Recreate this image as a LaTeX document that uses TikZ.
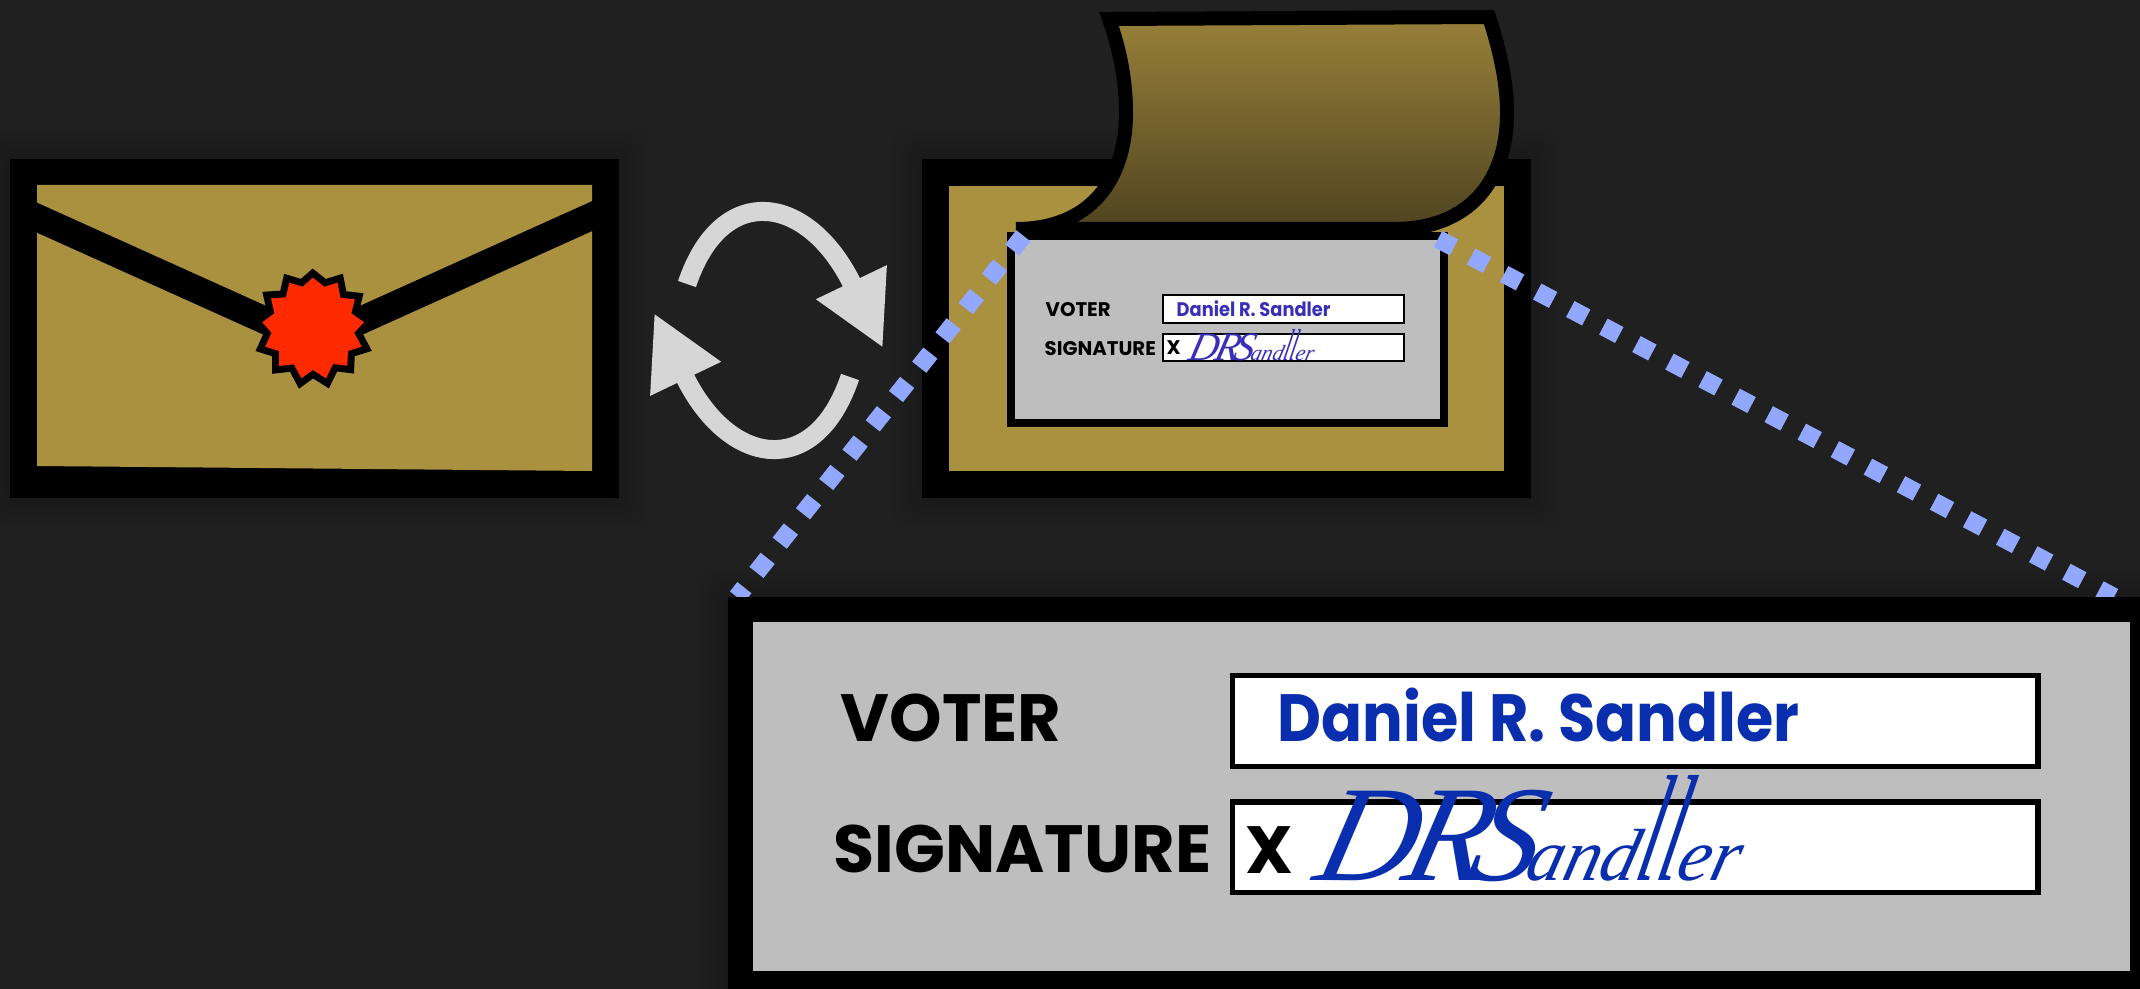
\documentclass[tikz,border=0pt]{standalone}
\usepackage{fontspec}
\usepackage{graphicx}
\usetikzlibrary{arrows.meta, positioning, backgrounds}
\setmainfont{Poppins}
\newfontfamily\sigfont{Liberation Serif}
\definecolor{bgdark}{HTML}{202020}
\definecolor{envtan}{HTML}{AA9140}
\definecolor{flaptop}{HTML}{978039}
\definecolor{flapbot}{HTML}{4F4420}
\definecolor{sealred}{HTML}{FF2A00}
\definecolor{cardgray}{HTML}{BEBEBE}
\definecolor{inkblue}{HTML}{0A2FAE}
\definecolor{inksmall}{HTML}{3A30B8}
\definecolor{zoomblue}{HTML}{92A8FF}
\definecolor{swapgray}{HTML}{D6D6D6}
\newcommand{\bigfont}{\fontsize{19}{20}\selectfont\bfseries}
\newcommand{\smallfont}{\fontsize{5.6}{6}\selectfont\bfseries}
\newcommand{\nametext}{\scalebox{0.905}[1]{Daniel R. Sandler}}
\newcommand{\sigtext}{\sigfont\itshape\fontsize{38.8}{40}\selectfont D\kern-3ptR\kern-5ptS\kern-3pt\fontsize{21}{24}\selectfont and\scalebox{1}[2.05]{ll}er}

\begin{document}
\begin{tikzpicture}[
    x=0.01cm, y=-0.01cm,
    envelope/.style={rectangle, draw=black, fill=envtan, line width=0.27cm, minimum width=5.82cm, minimum height=3.12cm},
    cardbox/.style={rectangle, draw=black, fill=cardgray},
    fieldbox/.style={rectangle, draw=black, fill=white},
    biglabel/.style={anchor=base west, inner sep=0pt, font=\bigfont},
    smalllabel/.style={anchor=base west, inner sep=0pt, font=\smallfont},
    signature/.style={anchor=base west, inner sep=0pt, xslant=0.25, transform shape},
    zoomline/.style={draw=zoomblue, line width=0.18cm, dash pattern=on 0.18cm off 0.194cm},
    swaparrow/.style={draw=swapgray, line width=0.19cm, -{Triangle[length=0.73cm, width=0.73cm, fill=swapgray]}},
    halo/.style={black, opacity=0.018, rounded corners=0.15cm}
]
\useasboundingbox (0,0) rectangle (2140,988);

% Sealed envelope
\node[rectangle, fill=black, minimum width=6.09cm, minimum height=3.39cm] (sealed) at (314.5,328.5) {};
\fill[envtan] (37,185) -- (592,185) -- (592,471) -- (37,466) -- cycle;
\draw[line width=0.273cm, miter limit=4] (20,210) -- (313,342) -- (610,208);
\path[fill=sealred, preaction={draw=black, line width=0.14cm, miter limit=10}] (312.9,277.7) -- (324.3,286.7) -- (337.5,282.7) -- (340.4,297.7) -- (354.8,299.3) -- (351.3,313.3) -- (364,322.3) -- (354.2,332.7) -- (361.7,346.7) -- (347.9,351) -- (347.3,365.7) -- (333,364) -- (326,378.3) -- (312.9,370) -- (301.4,378.3) -- (293.9,364.3) -- (279,366) -- (279,351) -- (265.2,346.7) -- (271.5,332.7) -- (262.3,322.3) -- (274.4,313.3) -- (271,298.3) -- (285.9,297.3) -- (289.3,282.7) -- (302.5,286.7) -- cycle;

% Opened envelope
\node[envelope] (opened) at (1226.75,328.5) {};
\node[cardbox, line width=0.08cm, minimum width=4.325cm, minimum height=1.87cm] (smallcard) at (1227.25,329.5) {};
\draw[line width=0.14cm, miter limit=10, top color=flaptop, bottom color=flapbot] (1109,19) -- (1489,17) .. controls (1503,60) and (1507,90) .. (1507,113) .. controls (1507,180) and (1470,229) .. (1394,229) -- (1016,229) .. controls (1090,229) and (1126,180) .. (1126,113) .. controls (1126,80) and (1120,50) .. (1109,19) -- cycle;

% Small form
\node[fieldbox, line width=0.02cm, minimum width=2.41cm, minimum height=0.27cm] (smallvoter) at (1283.5,309) {};
\node[fieldbox, line width=0.02cm, minimum width=2.41cm, minimum height=0.27cm, below=0.09cm of smallvoter] (smallsig) {};
\node[smalllabel] (smallvoterlabel) at (1045,316) {VOTER};
\node[smalllabel] (smallsiglabel) at (1044,355) {SIGNATURE};
\node[smalllabel, text=inksmall] (smallname) at (1176,316) {\nametext};
\node[smalllabel] (smallx) at (1166,354) {X};
\node[signature, text=inksmall, scale=0.295] (smallscript) at (1187,360) {\sigtext};

% Swap arrows
\coordinate (swapAstart) at (687,284);
\coordinate (swapAend) at (883,348);
\coordinate (swapBstart) at (850,377);
\coordinate (swapBend) at (654,313);
\draw[swaparrow] (swapAstart) .. controls (722,180) and (809,194) .. (swapAend);
\draw[swaparrow] (swapBstart) .. controls (815,481) and (728,467) .. (swapBend);

% Zoom lines
\coordinate (zoomAstart) at (1023.4,235.8);
\coordinate (zoomAend) at (737,597);
\coordinate (zoomBstart) at (1438,239);
\coordinate (zoomBend) at (2114,597);
\draw[zoomline] (zoomAstart) -- (zoomAend);
\draw[zoomline] (zoomBstart) -- (zoomBend);

% Large form
\node[cardbox, line width=0.245cm, minimum width=14.01cm, minimum height=3.74cm] (bigcard) at (1441.5,796.5) {};
\node[fieldbox, line width=0.055cm, minimum width=8.05cm, minimum height=0.905cm] (bigvoter) at (1635.3,721) {};
\node[fieldbox, line width=0.055cm, minimum width=8.05cm, minimum height=0.905cm, below=0.3cm of bigvoter] (bigsig) {};
\node[biglabel] (bigvoterlabel) at (840,741) {VOTER};
\node[biglabel] (bigsiglabel) at (833,872) {SIGNATURE};
\node[biglabel, text=inkblue] (bigname) at (1277,741) {\nametext};
\node[biglabel] (bigx) at (1245,873) {X};
\node[signature, text=inkblue] (bigscript) at (1311,880) {\sigtext};

% Background
\begin{scope}[on background layer]
    \fill[bgdark] (-5,-5) rectangle (2145,993);
    \foreach \g in {0.05,0.1,0.15,0.2,0.25,0.3} {
        \fill[halo] ([shift={(-\g cm,-\g cm)}]sealed.south west) rectangle ([shift={(\g cm,\g cm)}]sealed.north east);
        \fill[halo] ([shift={(-\g cm,-\g cm)}]opened.south west) rectangle ([shift={(\g cm,\g cm)}]opened.north east);
        \fill[halo] ([shift={(-\g cm,-\g cm)}]bigcard.south west) rectangle ([shift={(\g cm,\g cm)}]bigcard.north east);
    }
\end{scope}

\end{tikzpicture}
\end{document}
